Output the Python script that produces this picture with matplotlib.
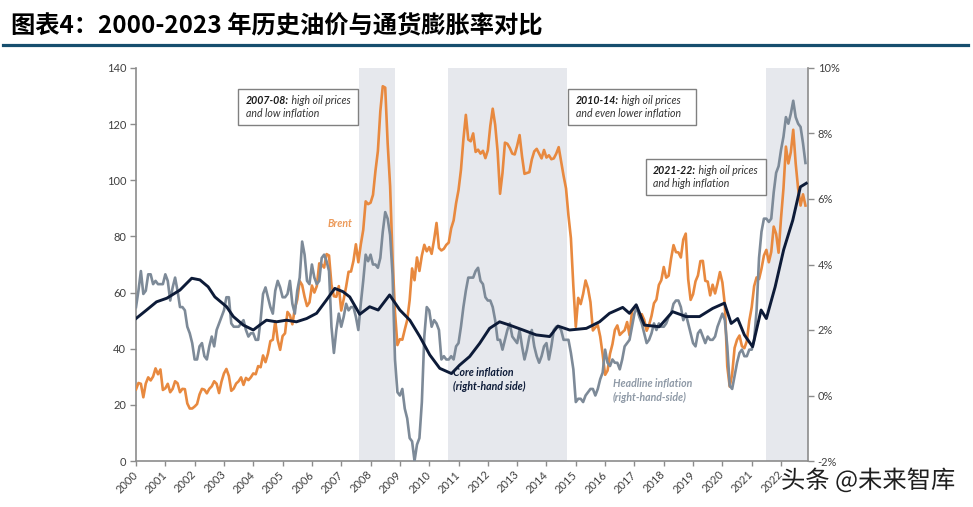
import matplotlib
matplotlib.use("Agg")
import matplotlib.pyplot as plt
from matplotlib.patches import Rectangle
from matplotlib.lines import Line2D
from matplotlib.ticker import FuncFormatter
import matplotlib.patheffects as pe
import numpy as np

plt.rcParams['font.family'] = ['Lato', 'Noto Sans CJK SC', 'DejaVu Sans']

# ---------------- data ----------------
years = list(range(2000, 2023))

brent_by_year = {
    2000: [25.5, 27.8, 27.5, 22.7, 27.6, 29.8, 28.7, 30.1, 33.0, 30.9, 32.6, 25.3],
    2001: [25.9, 27.5, 24.5, 25.7, 28.4, 27.7, 24.5, 25.7, 25.6, 20.5, 18.7, 18.7],
    2002: [19.4, 20.3, 23.7, 25.7, 25.4, 24.1, 25.7, 26.6, 28.4, 27.5, 24.2, 28.3],
    2003: [31.2, 32.8, 30.3, 25.0, 25.8, 27.6, 28.4, 29.8, 27.1, 29.6, 28.8, 29.8],
    2004: [31.2, 30.9, 33.8, 33.4, 37.6, 35.2, 38.2, 42.7, 43.2, 49.8, 43.1, 39.6],
    2005: [44.5, 45.5, 53.1, 51.9, 48.7, 54.3, 57.5, 64.1, 62.7, 58.5, 55.2, 56.5],
    2006: [62.5, 60.0, 62.3, 70.4, 70.0, 68.9, 73.7, 73.2, 62.8, 58.7, 58.5, 62.3],
    2007: [53.6, 57.6, 62.1, 67.4, 67.5, 71.3, 77.2, 70.8, 77.1, 82.3, 92.5, 91.5],
    2008: [92.0, 94.8, 103.3, 110.4, 124.6, 133.5, 133.0, 113.2, 98.0, 72.3, 53.0, 41.3],
    2009: [43.4, 43.2, 46.8, 50.2, 57.3, 68.6, 64.4, 72.5, 67.7, 73.2, 77.0, 74.7],
    2010: [76.2, 73.8, 78.8, 84.8, 75.9, 75.0, 75.6, 77.0, 77.8, 82.9, 85.7, 91.8],
    2011: [96.5, 103.7, 114.6, 123.3, 114.5, 113.9, 116.7, 110.1, 110.9, 109.5, 110.5, 107.9],
    2012: [110.7, 119.3, 125.5, 119.8, 110.3, 95.2, 102.6, 113.4, 113.0, 111.5, 109.5, 109.2],
    2013: [112.3, 116.1, 108.5, 102.3, 102.6, 102.9, 107.4, 110.3, 111.2, 109.5, 107.8, 110.8],
    2014: [108.1, 108.9, 107.5, 107.8, 109.5, 111.8, 106.8, 101.6, 97.1, 87.4, 79.4, 62.3],
    2015: [47.8, 58.1, 55.9, 59.5, 64.3, 61.5, 56.6, 46.5, 47.6, 48.4, 44.3, 38.0],
    2016: [30.7, 32.2, 38.2, 41.6, 46.7, 48.3, 44.9, 45.8, 46.6, 49.5, 44.8, 53.3],
    2017: [54.6, 54.9, 51.6, 52.3, 50.3, 46.4, 48.5, 51.7, 56.2, 57.5, 62.7, 64.4],
    2018: [69.1, 65.3, 66.0, 72.1, 76.9, 74.4, 74.3, 72.5, 78.9, 81.0, 64.8, 57.4],
    2019: [59.4, 64.0, 66.1, 71.2, 71.3, 64.2, 63.9, 59.0, 62.8, 59.7, 63.2, 67.3],
    2020: [63.6, 55.7, 33.7, 26.5, 31.0, 40.3, 43.2, 44.7, 40.9, 40.2, 42.7, 49.9],
    2021: [54.8, 62.3, 65.4, 64.8, 68.5, 73.2, 75.2, 70.8, 74.5, 83.5, 80.9, 74.2],
    2022: [86.5, 97.1, 112.0, 106.0, 110.0, 118.0, 106.0, 97.0, 91.0, 95.0, 91.0],
}

headline_by_year = {
    2000: [2.7, 3.2, 3.8, 3.1, 3.2, 3.7, 3.7, 3.4, 3.5, 3.4, 3.4, 3.4],
    2001: [3.7, 3.5, 2.9, 3.3, 3.6, 3.2, 2.7, 2.7, 2.6, 2.1, 1.9, 1.6],
    2002: [1.1, 1.1, 1.5, 1.6, 1.2, 1.1, 1.5, 1.8, 1.5, 2.0, 2.2, 2.4],
    2003: [2.6, 3.0, 3.0, 2.2, 2.1, 2.1, 2.1, 2.2, 2.3, 2.0, 1.8, 1.9],
    2004: [1.9, 1.7, 1.7, 2.3, 3.1, 3.3, 3.0, 2.7, 2.5, 3.2, 3.5, 3.3],
    2005: [3.0, 3.0, 3.1, 3.5, 2.8, 2.5, 3.2, 3.6, 4.7, 4.3, 3.5, 3.4],
    2006: [4.0, 3.6, 3.4, 3.5, 4.2, 4.3, 4.1, 3.8, 2.1, 1.3, 2.0, 2.5],
    2007: [2.1, 2.4, 2.8, 2.6, 2.7, 2.7, 2.4, 2.0, 2.8, 3.5, 4.3, 4.1],
    2008: [4.3, 4.0, 4.0, 3.9, 4.2, 5.0, 5.6, 5.4, 4.9, 3.7, 1.1, 0.1],
    2009: [0.0, 0.2, -0.4, -0.7, -1.3, -1.4, -2.0, -1.5, -1.3, -0.2, 1.8, 2.7],
    2010: [2.6, 2.1, 2.3, 2.2, 2.0, 1.1, 1.2, 1.1, 1.1, 1.2, 1.1, 1.5],
    2011: [1.6, 2.1, 2.7, 3.2, 3.6, 3.6, 3.6, 3.8, 3.9, 3.5, 3.4, 3.0],
    2012: [2.9, 2.9, 2.7, 2.3, 1.7, 1.7, 1.4, 1.7, 2.0, 2.2, 1.8, 1.7],
    2013: [1.6, 2.0, 1.5, 1.1, 1.4, 1.8, 2.0, 1.5, 1.2, 1.0, 1.2, 1.5],
    2014: [1.6, 1.1, 1.5, 2.0, 2.1, 2.1, 2.0, 1.7, 1.7, 1.7, 1.3, 0.8],
    2015: [-0.2, -0.1, -0.1, -0.2, 0.0, 0.1, 0.2, 0.2, 0.0, 0.2, 0.5, 0.7],
    2016: [1.4, 1.0, 0.9, 1.1, 1.0, 1.0, 0.8, 1.1, 1.5, 1.6, 1.7, 2.1],
    2017: [2.5, 2.7, 2.4, 2.2, 1.9, 1.6, 1.7, 1.9, 2.2, 2.0, 2.2, 2.1],
    2018: [2.1, 2.2, 2.4, 2.5, 2.8, 2.9, 2.9, 2.7, 2.3, 2.5, 2.2, 1.9],
    2019: [1.6, 1.5, 1.9, 2.0, 1.8, 1.6, 1.8, 1.7, 1.7, 1.8, 2.1, 2.3],
    2020: [2.5, 2.3, 1.5, 0.3, 0.2, 0.6, 1.0, 1.3, 1.4, 1.2, 1.2, 1.4],
    2021: [1.4, 1.7, 2.6, 4.2, 5.0, 5.4, 5.4, 5.3, 5.4, 6.2, 6.8, 7.0],
    2022: [7.5, 7.9, 8.5, 8.3, 8.6, 9.0, 8.5, 8.3, 8.2, 7.7, 7.1],
}

core_dates = [2000.00, 2000.36, 2000.70, 2001.05, 2001.50, 2001.90, 2002.18, 2002.46,
              2002.69, 2003.09, 2003.32, 2003.66, 2004.00, 2004.22, 2004.45, 2004.79,
              2005.13, 2005.47, 2005.82, 2006.16, 2006.50, 2006.78, 2007.06, 2007.29,
              2007.63, 2007.97, 2008.26, 2008.65, 2009.00, 2009.34, 2009.68, 2010.02,
              2010.36, 2010.76, 2011.04, 2011.38, 2011.72, 2012.06, 2012.40, 2012.74,
              2013.20, 2013.65, 2014.11, 2014.39, 2014.79, 2015.36, 2015.81, 2016.15,
              2016.60, 2016.83, 2017.06, 2017.34, 2017.85, 2018.30, 2018.76, 2019.22,
              2019.67, 2020.07, 2020.30, 2020.52, 2020.75, 2021.03, 2021.32, 2021.50,
              2021.80, 2022.09, 2022.40, 2022.66, 2022.86]
core_values = [2.35, 2.61, 2.86, 2.97, 3.22, 3.58, 3.53, 3.32,
               3.01, 2.71, 2.41, 2.15, 2.00, 2.15, 2.30, 2.25,
               2.30, 2.25, 2.35, 2.51, 2.92, 3.27, 3.17, 3.01,
               2.48, 2.71, 2.61, 3.07, 2.61, 2.30, 1.80, 1.24,
               0.83, 0.67, 0.93, 1.19, 1.59, 2.05, 2.25, 2.15,
               2.00, 1.85, 1.80, 2.12, 2.00, 2.05, 2.25, 2.51,
               2.69, 2.51, 2.77, 2.15, 2.10, 2.56, 2.41, 2.41,
               2.66, 2.82, 2.20, 2.35, 1.85, 1.49, 2.61, 2.35,
               3.32, 4.45, 5.35, 6.37, 6.48]

shade_periods = [(2007.61, 2008.85), (2010.64, 2014.71), (2021.49, 2022.95)]

left_ticks = [0, 20, 40, 60, 80, 100, 120, 140]
right_ticks = [-2, 0, 2, 4, 6, 8, 10]

title_text = '图表4：2000-2023 年历史油价与通货膨胀率对比'
notes = [
    ('2007-08:', ' high oil prices', 'and low inflation'),
    ('2010-14:', ' high oil prices', 'and even lower inflation'),
    ('2021-22:', ' high oil prices', 'and high inflation'),
]

# ---------------- build series ----------------
def monthly(d):
    t, v = [], []
    for y in years:
        for m, val in enumerate(d[y]):
            t.append(y + m / 12.0)
            v.append(val)
    return np.array(t), np.array(v)

bt, bv = monthly(brent_by_year)
ht, hv = monthly(headline_by_year)

# ---------------- figure ----------------
W, H = 973, 507
fig = plt.figure(figsize=(W / 100, H / 100), dpi=100)
fig.patch.set_facecolor('white')

ax = fig.add_axes([136 / W, 1 - 461 / H, (808 - 136) / W, (461 - 68) / H])
ax2 = ax.twinx()

ORANGE = '#E8893F'
GRAY = '#7D8A98'
NAVY = '#0D1B38'
SPINE = '#8C8C8C'
SHADE = '#E6E8ED'

for a, b in shade_periods:
    ax.axvspan(a, b, color=SHADE, lw=0, zorder=0)

ax.plot(bt, bv, color=ORANGE, lw=1.9, zorder=3, solid_joinstyle='round')
ax2.plot(ht, hv, color=GRAY, lw=1.9, zorder=3, solid_joinstyle='round')
ax2.plot(core_dates, core_values, color=NAVY, lw=2.1, zorder=4, solid_joinstyle='round')

ax.set_xlim(2000, 2022.92)
ax.set_ylim(0, 140)
ax2.set_ylim(-2, 10)

ax.set_yticks(left_ticks)
ax2.set_yticks(right_ticks)
ax2.yaxis.set_major_formatter(FuncFormatter(lambda v, _: f'{v:.0f}%'))
ax.set_xticks(years)
ax.set_xticklabels([str(y) for y in years], rotation=45, ha='right', va='center',
                   rotation_mode='anchor')

for a in (ax, ax2):
    a.set_facecolor('none')
    for s in a.spines.values():
        s.set_color(SPINE)
        s.set_linewidth(1.2)
    a.spines['top'].set_visible(False)
ax.spines['right'].set_visible(False)
ax2.spines['left'].set_visible(False)
ax2.spines['bottom'].set_visible(False)

ax.tick_params(axis='y', direction='out', length=4, width=1, color=SPINE,
               labelsize=8, labelcolor='#404040', pad=3)
ax.tick_params(axis='x', direction='out', length=3.5, width=1, color=SPINE,
               labelsize=8, labelcolor='#404040', pad=5)
ax2.tick_params(axis='y', direction='out', length=4, width=1, color=SPINE,
                labelsize=8, labelcolor='#404040', pad=3)

ax.set_zorder(1)
ax2.set_zorder(2)

# ---------------- annotation boxes ----------------
box_specs = [(238, 89, 120, 36, 246, 104, 117),
             (568, 89, 128, 36, 576, 104, 117),
             (646, 159, 120, 36, 653, 174, 187)]
for (bx, by, bw, bh, tx, l1, l2), (bold, rest, line2) in zip(box_specs, notes):
    fig.add_artist(Rectangle((bx / W, 1 - (by + bh) / H), bw / W, bh / H,
                             transform=fig.transFigure, facecolor='white',
                             edgecolor='#808080', lw=1.0, zorder=5))
    t1 = fig.text(tx / W, 1 - l1 / H, bold, fontsize=7.6, fontweight='bold',
                  style='italic', color='#1a1a1a', va='baseline', ha='left', zorder=6)
    fig.add_artist(plt.Annotation(rest, xy=(1, 0), xycoords=t1, fontsize=7.6,
                                  style='italic', color='#333333', va='bottom',
                                  ha='left', zorder=6))
    fig.text(tx / W, 1 - l2 / H, line2, fontsize=7.6, style='italic',
             color='#333333', va='baseline', ha='left', zorder=6)

# ---------------- series labels ----------------
fig.text(328 / W, 1 - 227 / H, 'Brent', fontsize=7.6, style='italic',
         fontweight='bold', color='#EC9A5A', va='baseline')
fig.text(453 / W, 1 - 390 / H, 'Core inflation\n(right-hand side)', fontsize=7.6,
         style='italic', fontweight='bold', color=NAVY, va='baseline',
         linespacing=1.35)
fig.text(613 / W, 1 - 401 / H, 'Headline inflation\n(right-hand-side)', fontsize=7.6,
         style='italic', fontweight='bold', color='#8E99A6', va='baseline',
         linespacing=1.35)

# ---------------- title ----------------
fig.text(11 / W, 1 - 25 / H, title_text, fontsize=17.5, fontweight='bold',
         family=['Noto Sans CJK SC', 'DejaVu Sans'], color='black', va='center',
         ha='left')
fig.add_artist(Line2D([3 / W, 968 / W], [1 - 45 / H, 1 - 45 / H],
                      transform=fig.transFigure, color='#164E6E', lw=2.3))

# ---------------- watermark ----------------
fig.text(781 / W, 1 - 481 / H, '头条 @未来智库', fontsize=17.5,
         family=['Noto Sans CJK SC', 'DejaVu Sans'], color='#1e1e1e',
         va='center', ha='left', zorder=10,
         path_effects=[pe.withStroke(linewidth=3, foreground='white')])

fig.savefig('out.png', dpi=100, facecolor='white')
